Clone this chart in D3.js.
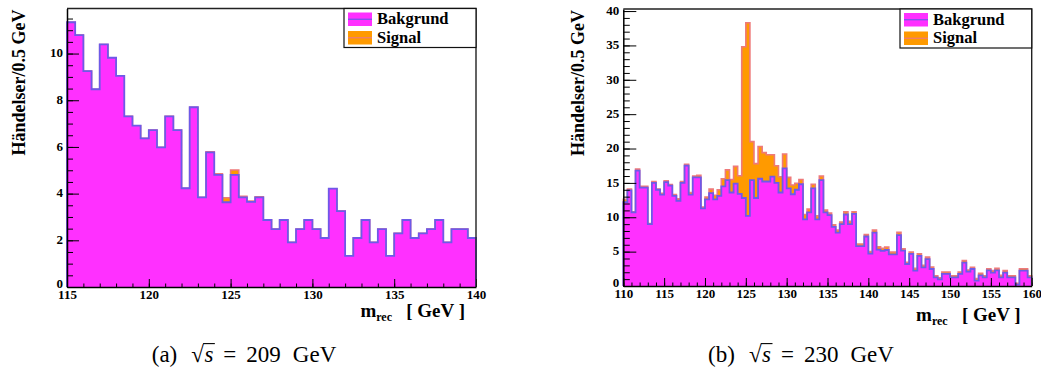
<!DOCTYPE html>
<html>
<head>
<meta charset="utf-8">
<script src="https://cdn.jsdelivr.net/npm/d3@7"></script>
<style>
  body { margin: 0; background: #fff; }
  svg text { font-family: "Liberation Serif", "Times New Roman", serif; white-space: pre; }
</style>
</head>
<body>
<svg id="chart" width="1041" height="372"></svg>
<script>
// binning: 0.5 GeV bins
const binWidth = 0.5;

// panel (a): sqrt(s) = 209 GeV, 115-140 GeV
const rangeA = [115, 140];
const bgA = [11.34, 10.79, 9.25, 8.47, 10.39, 9.82, 9.04, 7.31, 6.91, 6.37,
             6.72, 5.98, 7.31, 6.72, 4.23, 7.70, 3.84, 5.77, 4.80, 3.63,
             4.80, 3.84, 3.65, 3.84, 2.87, 2.48, 2.87, 1.91, 2.48, 2.87,
             2.48, 2.10, 4.21, 3.25, 1.33, 2.10, 2.87, 1.91, 2.48, 1.33,
             2.30, 2.87, 2.10, 2.30, 2.48, 2.87, 1.91, 2.48, 2.48, 2.10];
const sigA = [0, 0, 0, 0, 0, 0, 0, 0, 0, 0,
              0, 0, 0, 0, 0, 0, 0, 0.02, 0.05, 0.19,
              0.21, 0.04, 0.03, 0.02, 0.01, 0, 0, 0, 0, 0,
              0, 0, 0, 0, 0, 0, 0, 0, 0, 0,
              0, 0, 0, 0, 0, 0, 0, 0, 0, 0];
const yTicksA = [0, 2, 4, 6, 8, 10];
const xTicksA = [115, 120, 125, 130, 135, 140];

// panel (b): sqrt(s) = 230 GeV, 110-160 GeV
const rangeB = [110, 160];
const bgB = [12.2, 13.9, 10.7, 16.8, 14.3, 14.3, 9.0, 15.0, 14.0, 13.3,
             15.1, 14.6, 13.1, 12.4, 15.0, 17.5, 13.3, 15.8, 15.8, 11.3,
             12.6, 13.5, 12.6, 13.1, 14.5, 15.4, 13.6, 14.9, 13.4, 12.8,
             10.2, 15.4, 12.8, 15.6, 15.2, 15.2, 15.9, 15.0, 13.6, 17.1,
             14.2, 13.35, 14.0, 14.8, 9.7, 10.7, 14.2, 9.7, 15.4, 10.7,
             10.3, 8.6, 7.76, 9.0, 10.4, 9.0, 10.5, 5.8, 5.8, 7.2,
             4.7, 7.76, 5.3, 5.1, 5.24, 4.6, 4.6, 7.4, 5.14, 3.2,
             4.66, 2.23, 4.37, 2.72, 3.9, 2.47, 1.26, 0.97, 1.75, 1.75,
             1.26, 1.26, 1.75, 3.4, 2.09, 2.47, 0.78, 1.55, 1.26, 2.28,
             1.94, 2.28, 1.26, 1.94, 1.26, 1.26, 0.19, 2.23, 2.23, 1.26];
const sigB = [0.4, 0.2, 0.1, 0.2, 0.2, 0.2, 0.1, 0.2, 0.1, 0.2,
              0.2, 0.15, 0.2, 0.3, 0.2, 0.2, 0.3, 0.2, 0.3, 0.2,
              0.35, 0.6, 0.6, 0.9, 1.1, 1.5, 1.9, 2.5, 2.65, 22.0,
              28.1, 5.6, 5.0, 4.7, 4.2, 3.9, 3.2, 2.5, 2.3, 2.1,
              1.6, 1.35, 0.95, 0.7, 0.7, 0.5, 0.6, 0.5, 0.6, 0.36,
              0.3, 0.3, 0.39, 0.3, 0.4, 0.4, 0.3, 0.3, 0.3, 0.3,
              0.3, 0.39, 0.4, 0.4, 0.44, 0.35, 0.35, 0.4, 0.26, 0.25,
              0.29, 0.34, 0.33, 0.28, 0.3, 0.3, 0.24, 0.23, 0.29, 0.29,
              0.24, 0.24, 0.29, 0.3, 0.24, 0.25, 0.29, 0.29, 0.24, 0.24,
              0.29, 0.29, 0.29, 0.29, 0.24, 0.24, 0.2, 0.29, 0.29, 0.24];
const yTicksB = [0, 5, 10, 15, 20, 25, 30, 35, 40];
const xTicksB = [110, 115, 120, 125, 130, 135, 140, 145, 150, 155, 160];

const legendLabels = ['Bakgrund', 'Signal'];

const cMagenta = '#ff30ff', cBgLine = '#6d5ae8';
const cOrange = '#ff9a00', cSigLine = '#ee7a7a';

const svg = d3.select('#chart');

function drawPanel(p) {
  const g = svg.append('g');
  const x = d3.scaleLinear().domain(p.range).range([p.left, p.right]);
  const y = d3.scaleLinear().domain([0, p.yMax]).range([p.bottom, p.top]);

  const total = p.bg.map((v, i) => v + p.sig[i]);
  // step outline of a histogram, closed down to zero at both ends
  const steps = vals => {
    const pts = [[p.range[0], 0]];
    vals.forEach((v, i) => {
      const lo = p.range[0] + i * binWidth;
      pts.push([lo, v], [lo + binWidth, v]);
    });
    pts.push([p.range[1], 0]);
    return pts;
  };
  const area = d3.area().x(d => x(d[0])).y0(y(0)).y1(d => y(d[1]));
  const line = d3.line().x(d => x(d[0])).y(d => y(d[1]));

  // stack: signal on top of background
  g.append('path').attr('d', area(steps(total))).attr('fill', cOrange);
  g.append('path').attr('d', line(steps(total))).attr('fill', 'none')
    .attr('stroke', cSigLine).attr('stroke-width', 1.6);
  g.append('path').attr('d', area(steps(p.bg))).attr('fill', cMagenta);
  g.append('path').attr('d', line(steps(p.bg))).attr('fill', 'none')
    .attr('stroke', cBgLine).attr('stroke-width', 1.8);

  // minor ticks
  g.append('g').attr('transform', `translate(${p.left},0)`)
    .call(d3.axisLeft(y).tickValues(d3.range(0, p.yMax, p.yMinor)).tickSize(-p.yTickLen / 2).tickFormat(''))
    .call(a => a.select('.domain').remove());
  g.append('g').attr('transform', `translate(0,${p.bottom})`)
    .call(d3.axisBottom(x).tickValues(d3.range(p.range[0], p.range[1] + 0.01, 1)).tickSize(-3.5).tickFormat(''))
    .call(a => a.select('.domain').remove());

  // major ticks + labels
  const ya = g.append('g').attr('transform', `translate(${p.left},0)`)
    .call(d3.axisLeft(y).tickValues(p.yTicks).tickSize(-p.yTickLen).tickSizeOuter(0).tickPadding(4));
  const xa = g.append('g').attr('transform', `translate(0,${p.bottom})`)
    .call(d3.axisBottom(x).tickValues(p.xTicks).tickSize(-8).tickSizeOuter(0).tickPadding(2.5));
  [ya, xa].forEach(a => {
    a.selectAll('text').attr('font-size', 13).attr('font-weight', 'bold')
      .attr('font-family', '"Liberation Serif", serif').attr('fill', '#000');
    a.selectAll('.tick line').attr('stroke', '#000');
  });
  ya.selectAll('text').attr('dy', d => d === 0 ? '0.02em' : '0.25em');
  g.selectAll('.domain').attr('stroke', '#000').attr('stroke-width', 1.5);

  // frame top/right
  g.append('path')
    .attr('d', `M${p.left},${p.top}H${p.right}V${p.bottom}`)
    .attr('fill', 'none').attr('stroke', '#222').attr('stroke-width', 1.4);

  // legend
  const lg = g.append('g');
  lg.append('rect').attr('x', p.legX).attr('y', p.top).attr('width', p.right - p.legX).attr('height', 39)
    .attr('fill', '#fff').attr('stroke', '#111').attr('stroke-width', 1.2);
  const sw = [[cMagenta, cBgLine], [cOrange, cSigLine]];
  legendLabels.forEach((lab, i) => {
    const yy = p.top + 4 + i * 18.5;
    lg.append('rect').attr('x', p.legX + 4).attr('y', yy).attr('width', 24).attr('height', 13.5).attr('fill', sw[i][0]);
    lg.append('line').attr('x1', p.legX + 4).attr('x2', p.legX + 28).attr('y1', yy + 6.75).attr('y2', yy + 6.75)
      .attr('stroke', sw[i][1]).attr('stroke-width', 1.2);
    lg.append('text').attr('x', p.legX + 33).attr('y', yy + 11.5).attr('font-size', 16.5)
      .attr('font-weight', 'bold').text(lab);
  });

  // axis titles
  g.append('text').attr('transform', `translate(${p.yTitleX},${p.top + 1}) rotate(-90)`)
    .attr('text-anchor', 'end').attr('font-size', 18).attr('font-weight', 'bold')
    .text('Händelser/0.5 GeV');
  const xt = g.append('text').attr('x', p.right - 11).attr('y', p.xTitleY).attr('text-anchor', 'end')
    .attr('font-size', 19).attr('font-weight', 'bold');
  xt.append('tspan').text('m');
  xt.append('tspan').attr('font-size', 12).attr('dy', 4).text('rec');
  xt.append('tspan').attr('dy', -4).text('   [ GeV ]');

  // caption: "(x)  √s = nnn GeV", laid out piece by piece
  const cg = g.append('g');
  const fs = 23, base = 362;
  let cx = 0;
  const put = (txt, gap, italic) => {
    const t = cg.append('text').attr('x', cx).attr('y', base).attr('font-size', fs).text(txt);
    if (italic) t.attr('font-style', 'italic');
    const w = t.node().getComputedTextLength();
    const start = cx;
    cx += w + gap;
    return { start, w };
  };
  put(p.capTag, 14);
  const rad = put('√', 0.5);
  const ss = put('s', 10, true);
  put('=', 10);
  put(p.capVal, 12);
  put('GeV', 0);
  const vy = base - fs * 0.80;
  cg.append('line').attr('x1', rad.start + rad.w - 0.8).attr('x2', ss.start + ss.w + 1.5)
    .attr('y1', vy).attr('y2', vy).attr('stroke', '#000').attr('stroke-width', 1.1);
  cg.attr('transform', `translate(${p.capX - (cx) / 2},0)`);
}

drawPanel({ range: rangeA, bg: bgA, sig: sigA, yMax: 11.93, yMinor: 0.5, yTicks: yTicksA, xTicks: xTicksA,
  left: 67, right: 476, top: 8.5, bottom: 287, yTickLen: 12, legX: 344, xTitleY: 316.5, yTitleX: 25,
  capX: 244, capTag: '(a)', capVal: '209' });
drawPanel({ range: rangeB, bg: bgB, sig: sigB, yMax: 40.3, yMinor: 1, yTicks: yTicksB, xTicks: xTicksB,
  left: 623.3, right: 1031.7, top: 9, bottom: 286, yTickLen: 13, legX: 900, xTitleY: 320.5, yTitleX: 584,
  capX: 801, capTag: '(b)', capVal: '230' });
</script>
</body>
</html>
